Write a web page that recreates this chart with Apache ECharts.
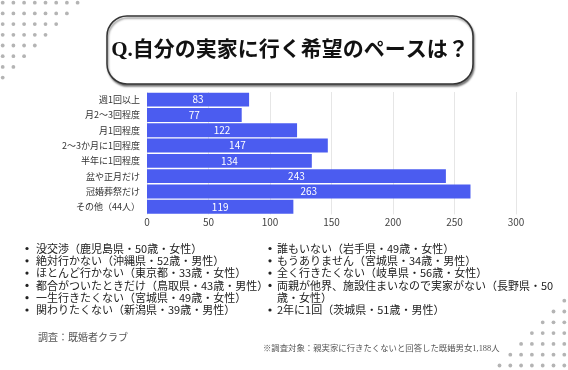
<!DOCTYPE html>
<html><head><meta charset="utf-8">
<script src="https://cdn.jsdelivr.net/npm/echarts@6/dist/echarts.min.js"></script>
<style>html,body{margin:0;padding:0;background:#fff;}#c{width:568px;height:370px;}</style>
</head><body><div id="c"></div>
<script>
const titleText = 'Q.自分の実家に行く希望のペースは？';
const categories = ['週1回以上','月2～3回程度','月1回程度','2～3か月に1回程度','半年に1回程度','盆や正月だけ','冠婚葬祭だけ','その他（44人）'];
const values = [83, 77, 122, 147, 134, 243, 263, 119];
const xTicks = [0, 50, 100, 150, 200, 250, 300];
const leftNotes = ['没交渉（鹿児島県・50歳・女性）','絶対行かない（沖縄県・52歳・男性）','ほとんど行かない（東京都・33歳・女性）','都合がついたときだけ（鳥取県・43歳・男性）','一生行きたくない（宮城県・49歳・女性）','関わりたくない（新潟県・39歳・男性）'];
const rightNotes = ['誰もいない（岩手県・49歳・女性）','もうありません（宮城県・34歳・男性）','全く行きたくない（岐阜県・56歳・女性）','両親が他界、施設住まいなので実家がない（長野県・50\n歳・女性）','2年に1回（茨城県・51歳・男性）'];
const sourceText = '調査：既婚者クラブ';
const footText = '※調査対象：親実家に行きたくないと回答した既婚男女1,188人';

const SANS = '"Noto Sans CJK JP", "Noto Sans", sans-serif';
const SERIF = '"Liberation Serif", "Noto Sans CJK JP", serif';
const graphics = [];

// decorative dot triangles
const dotStyle = {fill: '#b4b4b4'};
for (let r = 0; r < 8; r++) {
  for (let c = 0; c < 8 - r; c++) {
    graphics.push({type:'circle', shape:{cx: 2.7 + c*10.7, cy: 2.7 + r*10.7, r: 1.9}, style: dotStyle, silent:true});
  }
}
for (let r = 0; r < 8; r++) {
  for (let c = 0; c <= r; c++) {
    graphics.push({type:'circle', shape:{cx: 564.3 - c*10.8, cy: 300.7 + r*10.8, r: 1.9}, style: dotStyle, silent:true});
  }
}
// title box
graphics.push({type:'rect', shape:{x:107, y:16, width:366, height:68, r:20},
  style:{fill:'#fff', stroke:'#333', lineWidth:1.5, shadowColor:'rgba(0,0,0,0.45)', shadowBlur:2, shadowOffsetX:1, shadowOffsetY:2}, z:10});
graphics.push({type:'text', x:290, y:51, z:11, style:{text: titleText, font:'bold 21px ' + SERIF, fill:'#111', textAlign:'center', textVerticalAlign:'middle'}});

// notes
const noteFont = '11px ' + SANS;
let y = 248.5;
leftNotes.forEach((t, i) => {
  const yy = y + i * 12.3;
  graphics.push({type:'circle', shape:{cx:27, cy:yy, r:1.6}, style:{fill:'#222'}});
  graphics.push({type:'text', x:36, y:yy, style:{text:t, font:noteFont, fill:'#222', textVerticalAlign:'middle'}});
});
rightNotes.forEach((t, i) => {
  const yy = y + i * 12.3 + (i >= 4 ? 12.3 : 0);
  graphics.push({type:'circle', shape:{cx:270, cy:yy, r:1.6}, style:{fill:'#222'}});
  graphics.push({type:'text', x:277, y:yy - 6, style:{text:t, font:noteFont, fill:'#222', lineHeight:12.3, textVerticalAlign:'top'}});
});
graphics.push({type:'text', x:38, y:338.5, style:{text:sourceText, font:'10px ' + SERIF, fill:'#555', textVerticalAlign:'middle'}});
graphics.push({type:'text', x:263, y:348.5, style:{text:footText, font:'8.4px ' + SERIF, fill:'#555', textVerticalAlign:'middle'}});

const chart = echarts.init(document.getElementById('c'), null, {renderer:'canvas'});
chart.setOption({
  animation:false,
  backgroundColor:'#fff',
  grid:{left:147, right:52, top:92, bottom:155.6, containLabel:false},
  xAxis:{type:'value', min:xTicks[0], max:xTicks[xTicks.length-1], interval:50,
    axisLine:{show:false}, axisTick:{show:false},
    splitLine:{lineStyle:{color:'#e6e6e6', width:1}},
    axisLabel:{color:'#444', fontSize:10, fontFamily:SANS, margin:3}},
  yAxis:{type:'category', data:categories, inverse:true,
    axisLine:{show:false}, axisTick:{show:false},
    axisLabel:{color:'#333', fontSize:9, fontFamily:SANS, margin:7}},
  series:[{type:'bar', data:values, barCategoryGap:'9%',
    itemStyle:{color:'#4b5cf0'},
    label:{show:true, position:'inside', color:'#fff', fontSize:10, fontFamily:SANS}}],
  graphic: graphics
});
</script></body></html>
